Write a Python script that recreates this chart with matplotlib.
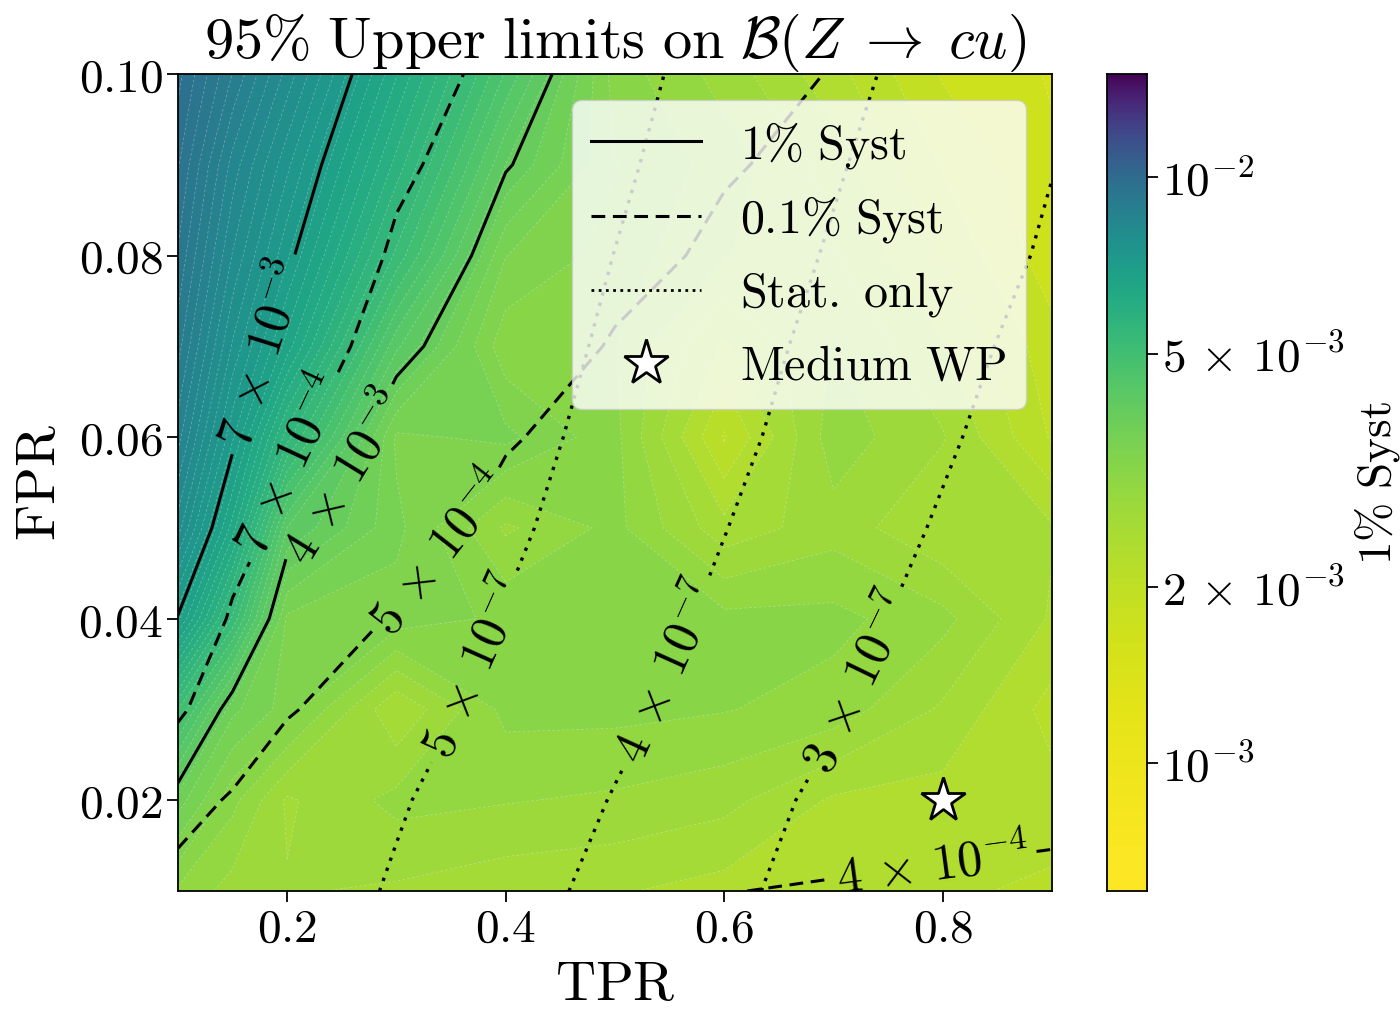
import numpy as np
import matplotlib
matplotlib.use("Agg")
import matplotlib.pyplot as plt
from matplotlib.colors import Normalize
from matplotlib.lines import Line2D
from matplotlib.ticker import NullLocator

plt.rcParams['mathtext.fontset'] = 'cm'
plt.rcParams['font.family'] = ['DejaVu Serif']

# ---------------- data ----------------
tpr = [0.1, 0.15, 0.2, 0.3, 0.4, 0.5, 0.6, 0.7, 0.8, 0.9]
fpr = [0.01, 0.02, 0.03, 0.04, 0.05, 0.06, 0.07, 0.08, 0.09, 0.10]

# 95% UL with 1% syst, units of 1e-3 (rows: fpr, cols: tpr)
ul_syst1 = [
    [3.00, 2.75, 2.65, 2.60, 2.50, 2.45, 2.35, 2.35, 2.25, 2.20],
    [3.75, 3.10, 2.60, 2.90, 2.85, 2.80, 2.70, 2.40, 2.35, 2.30],
    [5.07, 3.70, 3.35, 2.45, 3.10, 3.10, 3.05, 2.95, 2.60, 2.15],
    [6.96, 5.22, 3.40, 3.35, 3.20, 3.15, 3.10, 3.10, 2.90, 2.40],
    [8.00, 6.39, 4.25, 3.50, 2.80, 3.10, 2.50, 2.75, 2.45, 2.45],
    [8.60, 7.13, 5.55, 3.40, 3.50, 3.10, 2.00, 2.95, 2.65, 2.00],
    [9.00, 7.67, 6.59, 4.30, 3.10, 3.05, 2.40, 2.85, 2.45, 1.90],
    [9.30, 8.09, 7.13, 5.21, 3.45, 3.15, 2.85, 2.65, 2.20, 1.70],
    [9.55, 8.43, 7.55, 5.80, 4.05, 3.25, 2.95, 2.55, 2.00, 1.65],
    [9.80, 8.91, 8.03, 6.30, 4.63, 3.15, 2.75, 2.30, 1.80, 1.60],
]

# 95% UL with 0.1% syst, units of 1e-4
ul_syst01 = [
    [4.641, 4.386, 4.259, 4.131, 4.067, 4.029, 4.004, 3.985, 3.972, 3.961],
    [5.405, 4.896, 4.641, 4.386, 4.259, 4.182, 4.131, 4.095, 4.067, 4.046],
    [7.266, 5.784, 5.044, 4.641, 4.450, 4.335, 4.259, 4.204, 4.163, 4.131],
    [8.746, 6.771, 5.784, 4.896, 4.641, 4.488, 4.386, 4.313, 4.259, 4.216],
    [10.226, 7.759, 6.524, 5.292, 4.832, 4.641, 4.513, 4.423, 4.354, 4.301],
    [11.706, 8.746, 7.266, 5.784, 5.044, 4.794, 4.641, 4.532, 4.450, 4.386],
    [13.186, 9.734, 8.006, 6.277, 5.414, 4.947, 4.769, 4.641, 4.545, 4.471],
    [14.666, 10.72, 8.746, 6.771, 5.784, 5.192, 4.896, 4.750, 4.641, 4.556],
    [16.146, 11.706, 9.486, 7.266, 6.154, 5.488, 5.044, 4.860, 4.737, 4.641],
    [17.626, 12.69, 10.226, 7.759, 6.524, 5.784, 5.292, 4.969, 4.832, 4.726],
]

# 95% UL stat only, units of 1e-7
ul_stat = [
    [6.07, 5.78, 5.49, 4.91, 4.33, 3.76, 3.19, 2.63, 2.06, 1.50],
    [6.21, 5.93, 5.65, 5.08, 4.52, 3.96, 3.38, 2.80, 2.22, 1.65],
    [6.45, 6.17, 5.89, 5.32, 4.76, 4.19, 3.64, 3.08, 2.53, 1.98],
    [6.63, 6.35, 6.07, 5.51, 4.96, 4.40, 3.84, 3.28, 2.72, 2.16],
    [6.83, 6.55, 6.27, 5.71, 5.15, 4.58, 4.02, 3.47, 2.92, 2.37],
    [6.93, 6.66, 6.38, 5.83, 5.29, 4.74, 4.19, 3.64, 3.10, 2.55],
    [7.05, 6.78, 6.51, 5.96, 5.41, 4.87, 4.32, 3.78, 3.25, 2.72],
    [7.13, 6.87, 6.60, 6.06, 5.53, 4.99, 4.46, 3.93, 3.41, 2.90],
    [7.21, 6.95, 6.69, 6.16, 5.64, 5.12, 4.59, 4.07, 3.54, 3.02],
    [7.28, 7.03, 6.77, 6.26, 5.74, 5.23, 4.72, 4.21, 3.69, 3.18],
]

levels_syst1 = [4e-3, 7e-3]
levels_syst01 = [4e-4, 5e-4, 7e-4]
levels_stat = [3e-7, 4e-7, 5e-7]

cbar_min, cbar_max = 6.05e-4, 1.5e-2
cbar_ticks = [1e-3, 2e-3, 5e-3, 1e-2]
cbar_ticklabels = [r'$10^{-3}$', r'$2\,\times\,10^{-3}$', r'$5\,\times\,10^{-3}$', r'$10^{-2}$']

wp_tpr, wp_fpr = [0.8], [0.02]

# label anchor points (TPR, FPR)
lab_syst1 = [(0.166, 0.0696), (0.245, 0.0560)]
lab_syst01 = [(0.19, 0.0578), (0.322, 0.0495), (0.79, 0.0134)]
lab_stat = [(0.36, 0.0353), (0.538, 0.0347), (0.716, 0.0333)]

# ---------------- plotting ----------------
Z1 = np.array(ul_syst1) * 1e-3
Z01 = np.array(ul_syst01) * 1e-4
Zs = np.array(ul_stat) * 1e-7

fig = plt.figure(figsize=(14, 10.11), dpi=100)
ax = fig.add_axes([0.1271, 0.1187, 0.6243, 0.8081])
cax = fig.add_axes([0.7907, 0.1187, 0.0286, 0.8081])

norm = Normalize(vmin=cbar_min, vmax=cbar_max)
fill_levels = np.linspace(cbar_min, cbar_max, 72)
ax.contourf(tpr, fpr, Z1, levels=fill_levels, cmap='viridis_r', norm=norm)
ax.contour(tpr, fpr, Z1, levels=fill_levels, colors='white', linewidths=0.5,
           alpha=0.35, linestyles=[(0, (4, 3))])

def fmt(v):
    e = int(np.floor(np.log10(v) + 1e-9))
    m = int(round(v / 10 ** e))
    return r'$%d\,\times\,10^{%d}$' % (m, e)

cs1 = ax.contour(tpr, fpr, Z1, levels=levels_syst1, colors='k', linewidths=2.2,
                 linestyles='solid')
cs2 = ax.contour(tpr, fpr, Z01, levels=levels_syst01, colors='k', linewidths=2.2,
                 linestyles=[(0, (4.5, 2.5))])
cs3 = ax.contour(tpr, fpr, Zs, levels=levels_stat, colors='k', linewidths=2.4,
                 linestyles=[(0, (1, 2.2))])
for cs, pos in ((cs1, lab_syst1), (cs2, lab_syst01), (cs3, lab_stat)):
    ax.clabel(cs, fmt=fmt, manual=pos, fontsize=36, inline=True, inline_spacing=8)

ax.plot(wp_tpr, wp_fpr, ls='none', marker='*', ms=33, mfc='white', mec='k',
        mew=2, zorder=6)

ax.set_xlim(0.1, 0.9)
ax.set_ylim(0.01, 0.10)
xt = [0.2, 0.4, 0.6, 0.8]
yt = [0.02, 0.04, 0.06, 0.08, 0.10]
ax.set_xticks(xt)
ax.set_xticklabels([r'$%.1f$' % v for v in xt])
ax.set_yticks(yt)
ax.set_yticklabels([r'$%.2f$' % v for v in yt])
ax.tick_params(labelsize=34, length=8, width=1.3, pad=3)
for s in ax.spines.values():
    s.set_linewidth(1.3)
ax.set_xlabel(r'$\mathrm{TPR}$', fontsize=40, labelpad=4)
ax.set_ylabel(r'$\mathrm{FPR}$', fontsize=40, labelpad=8)
ax.set_title(r'$95\%\ \mathrm{Upper\ limits\ on}\ \mathcal{B}(Z\;\rightarrow\;cu)$',
             fontsize=42, pad=5)

handles = [
    Line2D([], [], color='k', lw=2.2, ls='solid'),
    Line2D([], [], color='k', lw=2.2, ls=(0, (4.5, 2.5))),
    Line2D([], [], color='k', lw=2.0, ls=(0, (1, 1.6))),
    Line2D([], [], ls='none', marker='*', ms=34, mfc='white', mec='k', mew=2),
]
labels = [r'$1\%\ \mathrm{Syst}$', r'$0.1\%\ \mathrm{Syst}$',
          r'$\mathrm{Stat.\ only}$', r'$\mathrm{Medium\ WP}$']
leg = ax.legend(handles, labels, loc='upper right', fontsize=34.5, framealpha=0.8,
                edgecolor='0.8', handlelength=2.3, borderaxespad=0.55)

# colorbar (linear colour mapping, log-scaled axis)
yy = np.geomspace(cbar_min, cbar_max, 600)
mid = np.sqrt(yy[:-1] * yy[1:])
cax.pcolormesh([0, 1], yy, mid[:, None], cmap='viridis_r', norm=norm, shading='flat')
cax.set_yscale('log')
cax.set_ylim(cbar_min, cbar_max)
cax.set_xlim(0, 1)
cax.set_xticks([])
cax.yaxis.tick_right()
cax.set_yticks(cbar_ticks)
cax.set_yticklabels(cbar_ticklabels)
cax.yaxis.set_minor_locator(NullLocator())
cax.tick_params(labelsize=34, length=8, width=1.3, pad=3)
for s in cax.spines.values():
    s.set_linewidth(1.3)
cax.yaxis.set_label_position('right')
cax.set_ylabel(r'$1\%\ \mathrm{Syst}$', fontsize=34)
cax.yaxis.set_label_coords(6.12, 0.5)

fig.savefig('out.png', dpi=100)
